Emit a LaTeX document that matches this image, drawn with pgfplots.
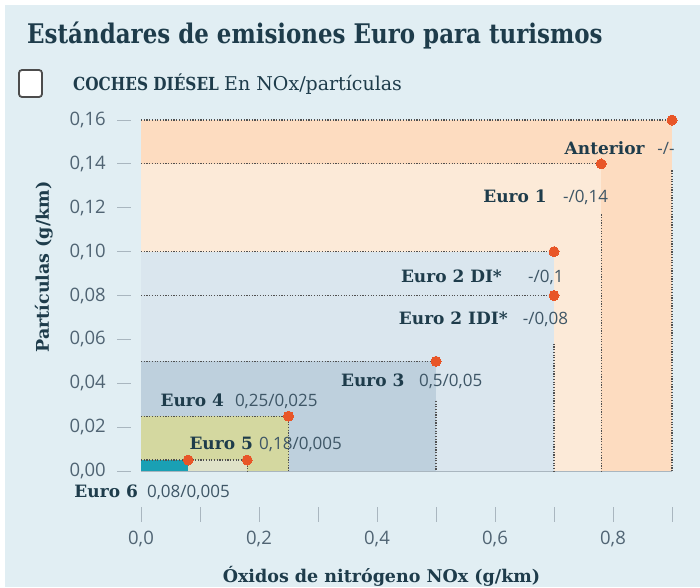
\documentclass[border=0pt]{standalone}
\usepackage{pgfplots}
\pgfplotsset{compat=1.18}
\usepackage{fontspec}
\newfontfamily\dvserif{DejaVu Serif}
\newfontfamily\dvserifst[FakeStretch=0.85]{DejaVu Serif}
\newfontfamily\osans{Open Sans}
\definecolor{bg}{HTML}{E1EEF3}
\definecolor{ant}{HTML}{FDDCC0}
\definecolor{eu1}{HTML}{FCEAD8}
\definecolor{eu2}{HTML}{DAE6EE}
\definecolor{eu3}{HTML}{BED0DD}
\definecolor{eu4}{HTML}{D4D8A0}
\definecolor{eu5}{HTML}{DFE2C8}
\definecolor{eu6}{HTML}{1AA0B4}
\definecolor{dotc}{HTML}{E85628}
\definecolor{ink}{HTML}{1E3C4B}
\definecolor{tk}{HTML}{506473}
\definecolor{valc}{HTML}{3E5666}
\definecolor{tickc}{HTML}{A9B6BF}
\definecolor{dotline}{HTML}{505050}
\begin{document}
\begin{tikzpicture}[
  lab/.style={font=\dvserif\bfseries\fontsize{17}{20}\selectfont, text=ink, inner sep=0pt},
  val/.style={font=\osans\fontsize{17}{20}\selectfont, text=valc, inner sep=0pt},
  dl/.style={draw=dotline, line width=1.2pt, dash pattern=on 1.2pt off 1.5pt},
]
\fill[white] (0,0) rectangle (700pt,-587pt);
\fill[bg] (5pt,-5pt) rectangle (700pt,-587pt);
\node[anchor=base west, inner sep=0pt, text=ink, font=\dvserifst\bfseries\fontsize{27}{30}\selectfont] at (27pt,-43pt) {Estándares de emisiones Euro para turismos};
\draw[line width=1.8pt, draw=black!70, fill=white, rounded corners=3pt] (19pt,-70pt) rectangle (42pt,-97pt);
\node[anchor=base west, inner sep=0pt, text=ink, font=\dvserifst\bfseries\fontsize{18}{20}\selectfont] at (73pt,-90pt) {COCHES DIÉSEL};
\node[anchor=base west, inner sep=0pt, text=ink, font=\dvserif\fontsize{19}{22}\selectfont] at (224pt,-90pt) {En NOx/partículas};

\begin{axis}[
  at={(141pt,-471pt)}, anchor=south west,
  scale only axis, width=531pt, height=351pt,
  xmin=0, xmax=0.9, ymin=0, ymax=0.16,
  clip=false,
  axis lines=left,
  axis line style={-, draw=tickc, line width=0.8pt},
  major tick length=0pt,
  xtick={0,0.2,0.4,0.6,0.8},
  xticklabels={{0,0},{0,2},{0,4},{0,6},{0,8}},
  ytick={0,0.02,0.04,0.06,0.08,0.10,0.12,0.14,0.16},
  yticklabels={{0,00},{0,02},{0,04},{0,06},{0,08},{0,10},{0,12},{0,14},{0,16}},
  ticklabel style={font=\osans\fontsize{18.5}{20}\selectfont, text=tk, inner sep=0pt},
  xticklabel style={anchor=north, yshift=-60pt},
  yticklabel style={anchor=east, xshift=-35pt},
  xlabel={Óxidos de nitrógeno NOx (g/km)},
  ylabel={Partículas (g/km)},
  label style={font=\dvserif\bfseries\fontsize{17.5}{20}\selectfont, text=ink, inner sep=0pt},
  xlabel style={at={(axis description cs:0.5,0)}, anchor=base, yshift=-111pt, xshift=-25pt},
  ylabel style={at={(axis description cs:-0.1733,0.581)}, anchor=base},
]
% areas (limit rectangles)
\addplot[draw=none, fill=ant] coordinates {(0,0.16) (0.90,0.16)} \closedcycle;
\addplot[draw=none, fill=eu1] coordinates {(0,0.14) (0.78,0.14)} \closedcycle;
\addplot[draw=none, fill=eu2] coordinates {(0,0.10) (0.70,0.10)} \closedcycle;
\addplot[draw=none, fill=eu3] coordinates {(0,0.05) (0.50,0.05)} \closedcycle;
\addplot[draw=none, fill=eu4] coordinates {(0,0.025) (0.25,0.025)} \closedcycle;
\addplot[draw=none, fill=eu5] coordinates {(0,0.005) (0.18,0.005)} \closedcycle;
\addplot[draw=none, fill=eu6] coordinates {(0,0.005) (0.08,0.005)} \closedcycle;
% horizontal dotted lines
\addplot[dl] coordinates {(0,0.16) (0.90,0.16)};
\addplot[dl] coordinates {(0,0.14) (0.78,0.14)};
\addplot[dl] coordinates {(0,0.10) (0.70,0.10)};
\addplot[dl] coordinates {(0,0.08) (0.70,0.08)};
\addplot[dl] coordinates {(0,0.05) (0.50,0.05)};
\addplot[dl] coordinates {(0,0.025) (0.25,0.025)};
\addplot[dl] coordinates {(0,0.005) (0.18,0.005)};
% vertical dotted lines
\addplot[dl] coordinates {(0.90,0.137) (0.90,0)};
\addplot[dl] coordinates {(0.78,0.117) (0.78,0)};
\addplot[dl] coordinates {(0.70,0.058) (0.70,0)};
\addplot[dl] coordinates {(0.50,0.032) (0.50,0)};
\addplot[dl] coordinates {(0.25,0.025) (0.25,0)};
\addplot[dl] coordinates {(0.18,0.005) (0.18,0)};
% limit points
\addplot[only marks, color=dotc, mark=*, mark size=5pt, mark options={fill=dotc, draw=dotc, line width=0pt}] coordinates {
  (0.90,0.16) (0.78,0.14) (0.70,0.10) (0.70,0.08) (0.50,0.05) (0.25,0.025) (0.18,0.005) (0.08,0.005)};
% labels
\node[lab, anchor=base east] at (axis cs:0.854,0.1445) {Anterior};
\node[val, anchor=base west] at (axis cs:0.875,0.1445) {-/-};
\node[lab, anchor=base east] at (axis cs:0.688,0.1226) {Euro 1};
\node[val, anchor=base west] at (axis cs:0.715,0.1226) {-/0,14};
\node[lab, anchor=base east] at (axis cs:0.612,0.0861) {Euro 2 DI*};
\node[val, anchor=base west] at (axis cs:0.656,0.0861) {-/0,1};
\node[lab, anchor=base east] at (axis cs:0.622,0.0670) {Euro 2 IDI*};
\node[val, anchor=base west] at (axis cs:0.647,0.0670) {-/0,08};
\node[lab, anchor=base east] at (axis cs:0.447,0.0383) {Euro 3};
\node[val, anchor=base west] at (axis cs:0.471,0.0383) {0,5/0,05};
\node[lab, anchor=base east] at (axis cs:0.141,0.0296) {Euro 4};
\node[val, anchor=base west] at (axis cs:0.159,0.0296) {0,25/0,025};
\node[lab, anchor=base east] at (axis cs:0.190,0.0100) {Euro 5};
\node[val, anchor=base west] at (axis cs:0.200,0.0100) {0,18/0,005};
\node[lab, anchor=base east] at (axis cs:-0.005,-0.0123) {Euro 6};
\node[val, anchor=base west] at (axis cs:0.010,-0.0123) {0,08/0,005};
\end{axis}
% detached tick marks
\foreach \i in {0,...,9} \draw[tickc, line width=1pt] ({(141+59*\i)*1pt},-507pt) -- ++(0,-15pt);
\foreach \i in {0,...,8} \draw[tickc, line width=1pt] (117pt,{(-471+43.875*\i)*1pt}) -- (131pt,{(-471+43.875*\i)*1pt});
\pgfresetboundingbox
\useasboundingbox (0,0) rectangle (700pt,-587pt);
\end{tikzpicture}
\end{document}
